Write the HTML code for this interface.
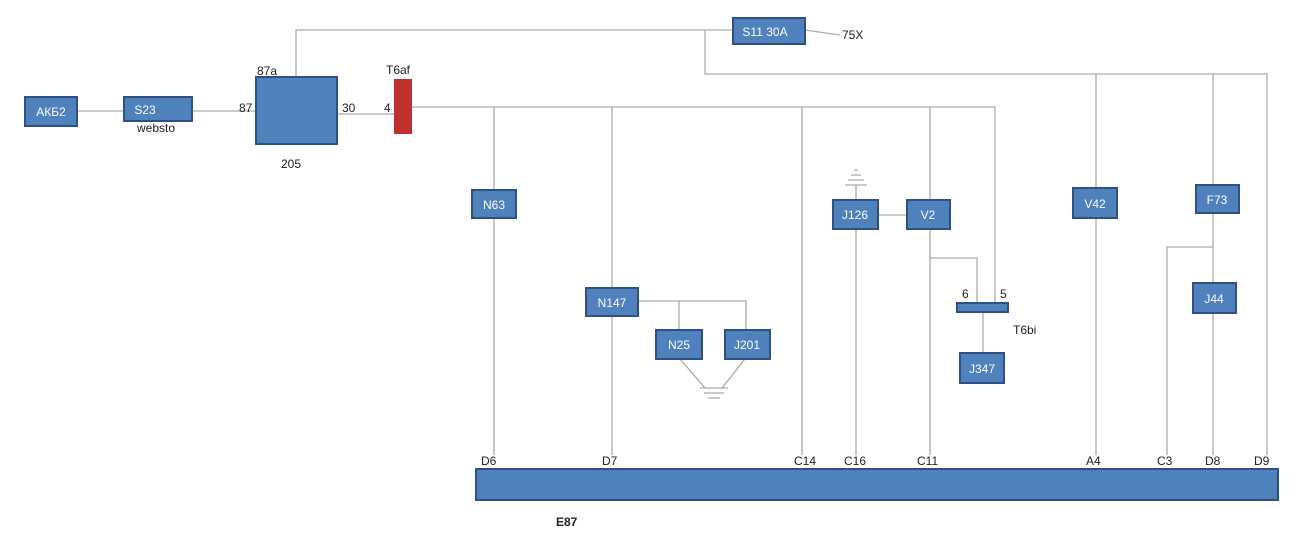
<!DOCTYPE html><html><head><style>body{margin:0;background:#fff}svg{display:block}text{font-family:"Liberation Sans",sans-serif;font-size:12px;fill:#222}.b{fill:#4f81bd;stroke:#2f5080;stroke-width:2}.w{fill:#fff;text-anchor:middle}.l{stroke:#aaa;stroke-width:1.3;fill:none}</style></head><body>
<svg width="1296" height="552" viewBox="0 0 1296 552">
<g class="l">
<path d="M77 111H124M192 111H256M337 114H394M412 107H995V303"/>
<path d="M296 77V30H733M805 30L840 35M705 30V74H1267V455M1096 74V188M1213 74V185"/>
<path d="M494 107V455M612 107V455M802 107V455M930 107V455M856 229V455M878 215H907M856 200V185"/>
<path d="M930 258H977V303M983 312V353M638 301H746V330M679 301V330M680 359L705 388M745 359L722 388"/>
<path d="M1096 218V455M1213 213V455M1213 247H1167V455"/>
<path d="M700 388H728M704 393H724M708 398H720M845 185H867M848 180H864M851 175H861M854 170H858"/>
</g>
<rect class="b" x="25" y="97" width="52" height="29"/><text class="w" x="51" y="116">АКБ2</text>
<rect class="b" x="124" y="97" width="68" height="24"/><text class="w" x="145" y="114">S23</text>
<text x="137" y="132">websto</text>
<rect class="b" x="256" y="77" width="81" height="67"/>
<text x="257" y="75">87a</text><text x="239" y="112">87</text><text x="342" y="112">30</text><text x="281" y="168">205</text>
<rect x="394" y="79" width="18" height="55" fill="#c0302f"/>
<text x="386" y="74">T6af</text><text x="384" y="112">4</text>
<rect class="b" x="733" y="18" width="72" height="26"/><text class="w" x="765" y="36">S11 30A</text>
<text x="842" y="39">75X</text>
<rect class="b" x="472" y="190" width="44" height="28"/><text class="w" x="494" y="209">N63</text>
<rect class="b" x="586" y="288" width="52" height="28"/><text class="w" x="612" y="307">N147</text>
<rect class="b" x="656" y="330" width="46" height="29"/><text class="w" x="679" y="349">N25</text>
<rect class="b" x="725" y="330" width="45" height="29"/><text class="w" x="747" y="349">J201</text>
<rect class="b" x="833" y="200" width="45" height="29"/><text class="w" x="855" y="219">J126</text>
<rect class="b" x="907" y="200" width="43" height="29"/><text class="w" x="928" y="219">V2</text>
<rect class="b" x="957" y="303" width="51" height="9"/>
<text x="962" y="298">6</text><text x="1000" y="298">5</text><text x="1013" y="334">T6bi</text>
<rect class="b" x="960" y="353" width="44" height="30"/><text class="w" x="982" y="373">J347</text>
<rect class="b" x="1073" y="188" width="44" height="30"/><text class="w" x="1095" y="208">V42</text>
<rect class="b" x="1196" y="185" width="43" height="28"/><text class="w" x="1217" y="204">F73</text>
<rect class="b" x="1193" y="283" width="43" height="30"/><text class="w" x="1214" y="303">J44</text>
<rect class="b" x="476" y="469" width="802" height="31"/>
<text x="556" y="526" style="font-weight:bold">E87</text>
<text x="481" y="465">D6</text><text x="602" y="465">D7</text><text x="794" y="465">C14</text><text x="844" y="465">C16</text><text x="917" y="465">C11</text><text x="1086" y="465">A4</text><text x="1157" y="465">C3</text><text x="1205" y="465">D8</text><text x="1254" y="465">D9</text>
</svg></body></html>
